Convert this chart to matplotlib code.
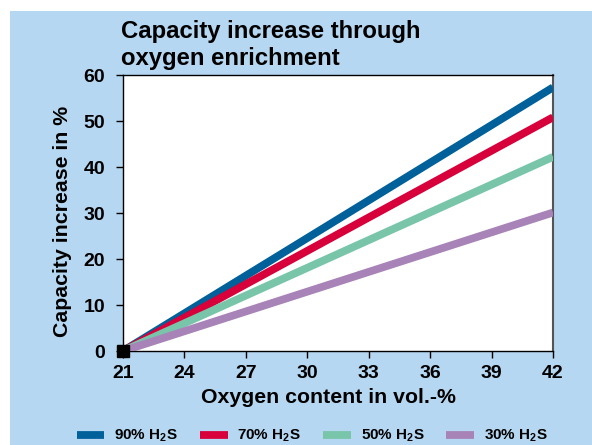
import matplotlib.pyplot as plt
from matplotlib.patches import Rectangle

plt.rcParams['font.family'] = ['Liberation Sans', 'DejaVu Sans']
plt.rcParams['font.weight'] = 'bold'
plt.rcParams['mathtext.fontset'] = 'custom'
plt.rcParams['mathtext.rm'] = 'Liberation Sans:bold'
plt.rcParams['mathtext.bf'] = 'Liberation Sans:bold'
plt.rcParams['mathtext.it'] = 'Liberation Sans:bold'

# Data
oxygen = [21, 42]
series_labels = ['90% H$_2$S', '70% H$_2$S', '50% H$_2$S', '30% H$_2$S']
series_values = [
    [0, 57.3],
    [0, 50.8],
    [0, 42.2],
    [0, 30.1],
]
colors = ['#00609A', '#D8003B', '#78C5A9', '#A783B8']
x_ticks = [21, 24, 27, 30, 33, 36, 39, 42]
y_ticks = [0, 10, 20, 30, 40, 50, 60]

W, H = 592, 445
fig = plt.figure(figsize=(W / 100, H / 100), dpi=100)
fig.patch.set_facecolor('white')
# light blue panel
fig.patches.append(Rectangle((10 / W, 0), 1 - 10 / W, 1 - 11 / H,
                             transform=fig.transFigure, facecolor='#B5D7F1',
                             edgecolor='none', zorder=-1))

ax = fig.add_axes([123 / W, 1 - 351 / H, (553 - 123) / W, (351 - 75) / H])
ax.set_facecolor('white')

for vals, col, lab in zip(series_values, colors, series_labels):
    ax.plot(oxygen, vals, color=col, linewidth=5.6, label=lab,
            solid_capstyle='butt', zorder=3)

# origin marker
ax.plot([oxygen[0]], [0], marker='s', color='black', markersize=9,
        clip_on=False, zorder=5)

ax.set_xlim(21, 42)
ax.set_ylim(0, 60)
ax.set_xticks(x_ticks)
ax.set_yticks(y_ticks)
ax.tick_params(axis='both', labelsize=14, length=5, width=1, color='black')
ax.tick_params(axis='x', pad=5)
ax.tick_params(axis='y', pad=8)

for s in ['left', 'bottom', 'top']:
    ax.spines[s].set_color('black')
    ax.spines[s].set_linewidth(1)
ax.spines['right'].set_color('#555555')
ax.spines['right'].set_linewidth(1.5)

# axis labels placed by pixel position
fig.text(328 / W, 1 - 403 / H, 'Oxygen content in vol.-%', fontsize=15.3,
         fontweight='bold', ha='center', va='baseline')
fig.text(63 / W, 1 - 221 / H, 'Capacity increase in %', fontsize=15.3,
         fontweight='bold', ha='center', va='center', rotation=90)

# title, two lines
fig.text(121 / W, 1 - 38 / H, 'Capacity increase through', fontsize=17.2,
         fontweight='bold', ha='left', va='baseline')
fig.text(121 / W, 1 - 65 / H, 'oxygen enrichment', fontsize=17.2,
         fontweight='bold', ha='left', va='baseline')

fig.legend(loc='center', bbox_to_anchor=(312 / W, 1 - 436 / H), ncol=4,
           frameon=False, fontsize=11, handlelength=1.83, handleheight=0.5,
           columnspacing=1.4, handletextpad=0.65, borderpad=0)

fig.savefig('out.png', dpi=100, facecolor=fig.get_facecolor())
